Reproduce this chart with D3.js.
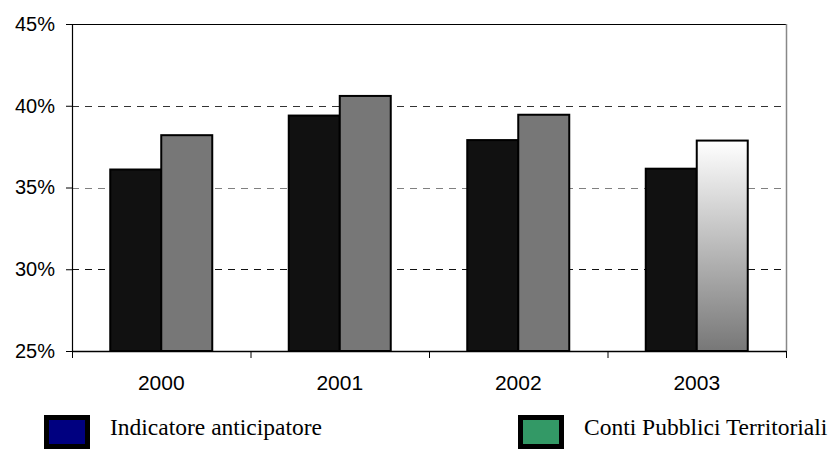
<!DOCTYPE html>
<html>
<head>
<meta charset="utf-8">
<script src="https://cdn.jsdelivr.net/npm/d3@7/dist/d3.min.js"></script>
<style>
  html, body { margin: 0; padding: 0; background: #fff; }
  svg { display: block; }
</style>
</head>
<body>
<svg id="chart" width="838" height="450"></svg>
<script>
// Years on the x axis
const years = ["2000", "2001", "2002", "2003"];
// Share values per series (fraction)
const indicatore = [0.361, 0.394, 0.379, 0.3615];
const contiPubblici = [0.382, 0.406, 0.3945, 0.3787];
// Series names
const seriesNames = ["Indicatore anticipatore", "Conti Pubblici Territoriali"];
// Y axis ticks
const yTicks = [0.25, 0.30, 0.35, 0.40, 0.45];

const svg = d3.select("#chart");
const plotL = 72, plotR = 786, plotT = 24, plotB = 351;

const x = d3.scaleBand().domain(years).range([plotL, plotR]).padding(0);
const xs = d3.scaleBand().domain([0, 1]).range([0, x.bandwidth()])
  .paddingInner(0).paddingOuter(0.75);
const y = d3.scaleLinear().domain([0.25, 0.45]).range([plotB, plotT]);

// gradient used by the last estimate bar
const defs = svg.append("defs");
const grad = defs.append("linearGradient").attr("id", "fade")
  .attr("x1", 0).attr("y1", 0).attr("x2", 0).attr("y2", 1);
grad.append("stop").attr("offset", "0%").attr("stop-color", "#ffffff");
grad.append("stop").attr("offset", "100%").attr("stop-color", "#777777");

// dashed gridlines
const gridColor = { "0.30": "#111", "0.35": "#808080", "0.40": "#333" };
svg.append("g").selectAll("line")
  .data(yTicks.filter(t => t > 0.25 && t < 0.45))
  .join("line")
  .attr("x1", plotL).attr("x2", plotR)
  .attr("y1", d => Math.round(y(d)) + 0.5).attr("y2", d => Math.round(y(d)) + 0.5)
  .attr("stroke", d => gridColor[d.toFixed(2)])
  .attr("stroke-width", 1)
  .attr("stroke-dasharray", "7,6");

// frame: top and right edges
svg.append("line").attr("x1", plotL).attr("x2", plotR).attr("y1", plotT + 0.5).attr("y2", plotT + 0.5)
  .attr("stroke", "#000").attr("stroke-width", 1.2);
svg.append("line").attr("x1", plotR + 0.5).attr("x2", plotR + 0.5).attr("y1", plotT).attr("y2", plotB)
  .attr("stroke", "#888").attr("stroke-width", 1.5);

// bars
const rows = years.map((yr, i) => ({ yr, i, vals: [indicatore[i], contiPubblici[i]] }));
const groups = svg.append("g").selectAll("g").data(rows).join("g")
  .attr("transform", d => `translate(${x(d.yr)},0)`);
groups.selectAll("rect")
  .data(d => d.vals.map((v, s) => ({ v, s, i: d.i })))
  .join("rect")
  .attr("x", d => xs(d.s))
  .attr("width", xs.bandwidth())
  .attr("y", d => y(d.v))
  .attr("height", d => y(0.25) - y(d.v))
  .attr("fill", d => d.s === 0 ? "#111111" : (d.i === years.length - 1 ? "url(#fade)" : "#777777"))
  .attr("stroke", "#000")
  .attr("stroke-width", 2);

// y axis
const yAxis = d3.axisLeft(y).tickValues(yTicks).tickFormat(d3.format(".0%"))
  .tickSize(6).tickPadding(11);
const gy = svg.append("g").attr("transform", `translate(${plotL},0)`).call(yAxis);
gy.select(".domain").attr("stroke", "#000").attr("stroke-width", 1.2);
gy.selectAll(".tick line").attr("stroke", "#000");
gy.selectAll("text").attr("font-family", "'Liberation Sans', Arial, sans-serif")
  .attr("font-size", 20).attr("fill", "#000");

// x axis with ticks at category boundaries
const gx = svg.append("g").attr("transform", `translate(0,${plotB})`);
gx.append("line").attr("x1", plotL).attr("x2", plotR).attr("y1", 0.5).attr("y2", 0.5)
  .attr("stroke", "#000").attr("stroke-width", 1.5);
const bounds = years.map(d => x(d)).concat([plotR]);
gx.selectAll(".bt").data(bounds).join("line").attr("class", "bt")
  .attr("x1", d => d + 0.5).attr("x2", d => d + 0.5).attr("y1", 0).attr("y2", 7)
  .attr("stroke", "#000");
gx.selectAll("text").data(years).join("text")
  .attr("x", d => x(d) + x.bandwidth() / 2)
  .attr("y", 39)
  .attr("text-anchor", "middle")
  .attr("font-family", "'Liberation Sans', Arial, sans-serif")
  .attr("font-size", 21)
  .text(d => d);

// legend
const legendColors = ["#000080", "#339966"];
const legendX = [44, 518];
const lg = svg.append("g").selectAll("g").data(seriesNames).join("g")
  .attr("transform", (d, i) => `translate(${legendX[i]},415)`);
lg.append("rect").attr("x", 2.5).attr("y", 2.5).attr("width", 41).attr("height", 29)
  .attr("fill", (d, i) => legendColors[i]).attr("stroke", "#000").attr("stroke-width", 5);
lg.append("text").attr("x", 66).attr("y", 20)
  .attr("font-family", "'Liberation Serif', 'Times New Roman', serif")
  .attr("font-size", 23.5)
  .text(d => d);
</script>
</body>
</html>
